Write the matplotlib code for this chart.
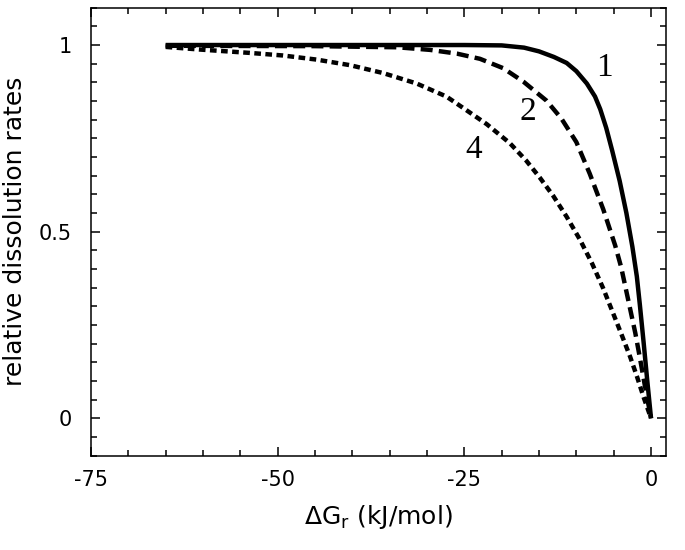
import matplotlib
matplotlib.use("Agg")
import matplotlib.pyplot as plt
from matplotlib.ticker import MultipleLocator

# Curve 1 (solid)
x1 = [-65, -40, -25, -20, -17, -15, -13, -11.3, -10, -8.6, -7.5, -6.8, -6.0, -5.2, -4.2, -3.3, -2.5, -1.9, -1.5, -1.0, -0.5, 0]
y1 = [1.0, 1.0, 1.0, 0.999, 0.993, 0.983, 0.968, 0.952, 0.93, 0.897, 0.862, 0.828, 0.778, 0.717, 0.636, 0.55, 0.46, 0.38, 0.305, 0.205, 0.10, 0.0]

# Curve 2 (dashed)
x2 = [-65, -45, -34, -29.6, -26, -22.9, -19.8, -17.1, -14.0, -12.0, -10.0, -8.2, -6.4, -4.8, -4.0, -3.0, -2.1, -1.5, -0.8, 0]
y2 = [0.998, 0.997, 0.994, 0.987, 0.977, 0.963, 0.938, 0.902, 0.851, 0.803, 0.74, 0.655, 0.56, 0.463, 0.405, 0.312, 0.228, 0.163, 0.085, 0.0]

# Curve 4 (dotted)
x4 = [-65, -60.5, -53.8, -49.3, -44.8, -40.3, -35.9, -31.4, -27.4, -25.2, -22.0, -18.9, -16.7, -14.9, -13.1,
      -11.3, -9.5, -7.9, -6.4, -5.05, -3.9, -2.8, -1.9, -1.0, 0]
y4 = [0.995, 0.988, 0.979, 0.972, 0.961, 0.946, 0.925, 0.897, 0.862, 0.832, 0.788, 0.737, 0.69, 0.645, 0.596,
      0.54, 0.478, 0.415, 0.348, 0.28, 0.222, 0.165, 0.113, 0.057, 0.0]

curve_labels = ["1", "2", "4"]
label_pos = [(-6.3, 0.94), (-16.5, 0.82), (-23.8, 0.72)]

xticks = [-75, -50, -25, 0]
yticks = [0, 0.5, 1]
yticklabels = ["0", "0.5", "1"]

plt.rcParams['font.family'] = ['DejaVu Sans']
plt.rcParams['mathtext.default'] = 'regular'
plt.rcParams['axes.unicode_minus'] = False

fig = plt.figure(figsize=(6.85, 5.5), dpi=100)
ax = fig.add_axes([0.1328, 0.1716, 0.8394, 0.8144])

lw = 3.2
ax.plot(x1, y1, color='black', lw=lw, solid_capstyle='butt', solid_joinstyle='round')
ax.plot(x2, y2, color='black', lw=lw, dashes=(2.7, 1.4), dash_capstyle='butt')
ax.plot(x4, y4, color='black', lw=lw, dashes=(1.5, 1.0), dash_capstyle='butt')

for lab, (lx, ly) in zip(curve_labels, label_pos):
    ax.text(lx, ly, lab, family='Liberation Serif', fontsize=24, ha='center', va='center')

ax.set_xlim(-75, 2)
ax.set_ylim(-0.1, 1.1)
ax.set_xticks(xticks)
ax.set_yticks(yticks)
ax.set_yticklabels(yticklabels)
ax.xaxis.set_minor_locator(MultipleLocator(5))
ax.yaxis.set_minor_locator(MultipleLocator(0.05))
ax.tick_params(which='both', direction='in', top=True, right=True, width=1.1)
ax.tick_params(which='major', length=6.5, labelsize=15)
ax.tick_params(which='minor', length=4)
ax.tick_params(axis='x', which='major', pad=10)
ax.tick_params(axis='y', which='major', pad=14)
for s in ax.spines.values():
    s.set_linewidth(1.1)

ax.set_xlabel(r'$\Delta$G$_{r}$ (kJ/mol)', fontsize=18, labelpad=10)
ax.set_ylabel('relative dissolution rates', fontsize=18, labelpad=8)

fig.savefig('out.png', dpi=100)
